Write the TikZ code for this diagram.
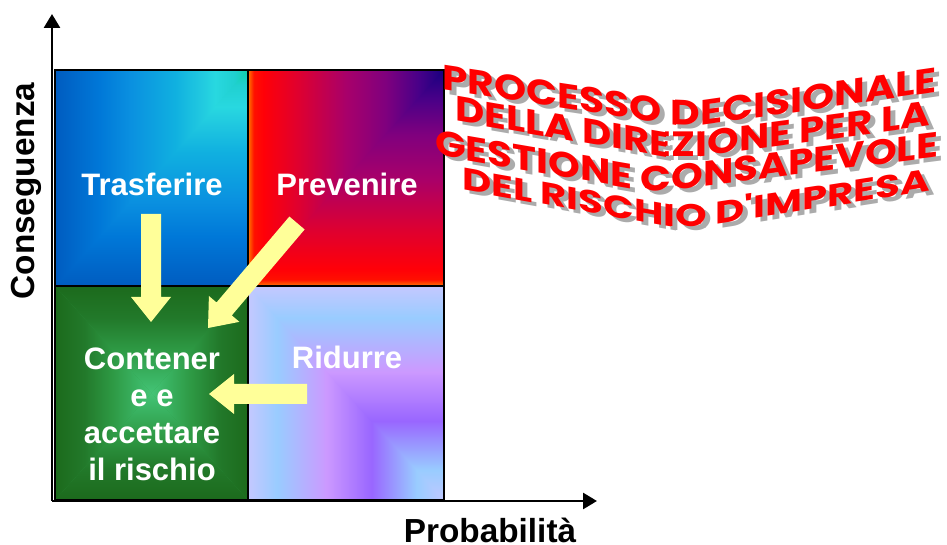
\documentclass[tikz,border=0pt]{standalone}
\usepackage{fontspec}
\usepackage{graphicx}
\setmainfont{Liberation Sans}
\newfontfamily\wafont{Poppins}
\usetikzlibrary{arrows.meta,calc}

\definecolor{yel}{HTML}{FFFF99}
\definecolor{waRed}{HTML}{FF0000}
\definecolor{waGray}{HTML}{ABABAB}
% Trasferire
\definecolor{tA}{HTML}{005CC0}
\definecolor{tB}{HTML}{0078D8}
\definecolor{tC}{HTML}{0A90E0}
\definecolor{tD}{HTML}{10B0E0}
\definecolor{tE}{HTML}{20C8E0}
\definecolor{tF}{HTML}{28D8E0}
\definecolor{tG}{HTML}{20D0D0}
\definecolor{tH}{HTML}{10D0A8}
% Prevenire
\definecolor{pA}{HTML}{FF7800}
\definecolor{pB}{HTML}{FF1000}
\definecolor{pC}{HTML}{FF0008}
\definecolor{pD}{HTML}{E0002E}
\definecolor{pE}{HTML}{A8006A}
\definecolor{pF}{HTML}{80007E}
\definecolor{pG}{HTML}{480088}
\definecolor{pH}{HTML}{180080}
% Contenere
\definecolor{cA}{HTML}{1C6A1C}
\definecolor{cB}{HTML}{22792A}
\definecolor{cC}{HTML}{2E9A45}
\definecolor{cD}{HTML}{3AB463}
\definecolor{cE}{HTML}{44C476}
% Ridurre
\definecolor{rA}{HTML}{C4C8FF}
\definecolor{rB}{HTML}{99CCFF}
\definecolor{rC}{HTML}{CC99FF}
\definecolor{rD}{HTML}{9966FF}
\definecolor{rE}{HTML}{99CCFF}
\definecolor{rF}{HTML}{C0C8FF}

\pgfdeclarehorizontalshading{trasf}{100bp}{color(0bp)=(tA); color(25bp)=(tA); color(36.5bp)=(tB); color(44.5bp)=(tC); color(56bp)=(tD); color(62.5bp)=(tE); color(66.5bp)=(tF); color(71.5bp)=(tG); color(75bp)=(tH); color(100bp)=(tH)}
\pgfdeclarehorizontalshading{preven}{100bp}{color(0bp)=(pA); color(25bp)=(pA); color(26.5bp)=(pB); color(29bp)=(pC); color(37.5bp)=(pD); color(50bp)=(pE); color(60bp)=(pF); color(68.5bp)=(pG); color(75bp)=(pH); color(100bp)=(pH)}
\pgfdeclarehorizontalshading{conten}{100bp}{color(0bp)=(cA); color(25bp)=(cA); color(40bp)=(cB); color(55bp)=(cC); color(67.5bp)=(cD); color(75bp)=(cE); color(100bp)=(cE)}
\pgfdeclarehorizontalshading{ridur}{100bp}{color(0bp)=(rA); color(25bp)=(rA); color(32.5bp)=(rB); color(45bp)=(rC); color(56.5bp)=(rD); color(68bp)=(rE); color(75bp)=(rF); color(100bp)=(rF)}

% filled block arrow from #2 to #3, helper coordinate #1h
\newcommand{\yelarrow}[3]{%
  \coordinate (#1h) at ($(#3)!18.75pt!(#2)$);
  \fill[yarrow] ($(#2)!7.5pt!90:(#3)$) -- ($(#1h)!7.5pt!-90:(#2)$) -- ($(#1h)!15pt!-90:(#2)$) -- (#3)
     -- ($(#1h)!15pt!90:(#2)$) -- ($(#1h)!7.5pt!90:(#2)$) -- ($(#2)!7.5pt!-90:(#3)$) -- cycle;
}

% word-art lines (natural, unwarped text)
\newcommand{\waA}{\resizebox{371.25pt}{18.75pt}{\wafont\bfseries PROCESSO DECISIONALE}}
\newcommand{\waB}{\resizebox{356.25pt}{18.75pt}{\wafont\bfseries DELLA DIREZIONE PER LA}}
\newcommand{\waC}{\resizebox{377.25pt}{18.75pt}{\wafont\bfseries GESTIONE CONSAPEVOLE}}
\newcommand{\waD}{\resizebox{351pt}{18.75pt}{\wafont\bfseries DEL RISCHIO D'IMPRESA}}

% one sheared, clipped piece of a line:
% #1 colour, #2 text, #3 xL, #4 yL (unwarped baseline start), piece from (#5,#6) to (#7,#8)
\newcommand{\wapiece}[8]{%
  \pgfmathsetmacro{\wnslope}{-(#8-#6)/(#7-#5)}%
  \pgfmathsetmacro{\wconst}{#6-#4+\wnslope*#5}%
  \begin{scope}[shift={(0,\wconst)}]
    \begin{scope}[cm={1,\wnslope,0,1,(0,0)}]
      \clip (#5,-300) rectangle (#7,700);
      \node[wanode, text=#1] at (#3,#4) {#2};
    \end{scope}
  \end{scope}}

\newcommand{\walayer}[1]{%
  \wapiece{#1}{\waA}{442}{90}{422}{87.0}{675}{125}%
  \wapiece{#1}{\waA}{442}{90}{675}{125}{700}{126}%
  \wapiece{#1}{\waA}{442}{90}{700}{126}{967}{87.7}%
  \wapiece{#1}{\waB}{455}{121}{435}{117.57}{665}{157}%
  \wapiece{#1}{\waB}{455}{121}{665}{157}{700}{157}%
  \wapiece{#1}{\waB}{455}{121}{700}{157}{960}{121.96}%
  \wapiece{#1}{\waC}{435}{155}{415}{151.57}{645}{191}%
  \wapiece{#1}{\waC}{435}{155}{645}{191}{675}{190}%
  \wapiece{#1}{\waC}{435}{155}{675}{190}{968}{153.23}%
  \wapiece{#1}{\waD}{462}{190}{442}{186.44}{670}{227}%
  \wapiece{#1}{\waD}{462}{190}{670}{227}{700}{227}%
  \wapiece{#1}{\waD}{462}{190}{700}{227}{960}{186.30}%
}

\begin{document}
\begin{tikzpicture}[x=0.75pt,y=-0.75pt,
  qborder/.style={draw=black, line width=1.5pt},
  axisline/.style={line width=2pt, -{Triangle[length=10.5pt,width=12pt]}},
  qlabel/.style={text=white, font=\bfseries\fontsize{23.25}{27.75}\selectfont, inner sep=0pt},
  axlabel/.style={text=black, font=\bfseries\fontsize{25}{30}\selectfont, inner sep=0pt},
  yarrow/.style={fill=yel},
  wanode/.style={transform shape, anchor=base west, inner sep=0pt, outer sep=0pt}]
\useasboundingbox (0,0) rectangle (947,545);
\fill[white] (0,0) rectangle (947,545);

% Trasferire (corner gradient toward top-right)
\shade[shading=trasf] (55,70) rectangle (248,286);
\shade[shading=trasf, shading angle=90] (55,286) -- (248,286) -- (248,70) -- cycle;
% Prevenire
\shade[shading=preven] (248,70) rectangle (444,286);
\shade[shading=preven, shading angle=90] (248,286) -- (444,286) -- (444,70) -- cycle;
% Ridurre (corner gradient toward bottom-right)
\shade[shading=ridur] (248,286) rectangle (444,500);
\shade[shading=ridur, shading angle=270] (248,286) -- (444,286) -- (444,500) -- cycle;
% Contenere (gradient toward centre)
\coordinate (cc) at (151.5,393);
\fill[cC] (55,286) rectangle (248,500);
\shade[shading=conten] (55,286) -- (55,500) -- (cc) -- cycle;
\shade[shading=conten, shading angle=180] (248,286) -- (248,500) -- (cc) -- cycle;
\shade[shading=conten, shading angle=270] (55,286) -- (248,286) -- (cc) -- cycle;
\shade[shading=conten, shading angle=90] (55,500) -- (248,500) -- (cc) -- cycle;

% borders
\draw[qborder] (55,70) rectangle (248,286);
\draw[qborder] (248,70) rectangle (444,286);
\draw[qborder] (55,286) rectangle (248,500);
\draw[qborder] (248,286) rectangle (444,500);

% axes
\coordinate (o) at (52,501);
\coordinate (ytip) at (52,14);
\coordinate (xtip) at (597,501);
\draw[axisline] (o) -- (ytip);
\draw[axisline] (o) -- (xtip);
\node[axlabel, rotate=90, anchor=base] (ylab) at (35,191) {Conseguenza};
\node[axlabel, anchor=base] (xlab) at (490,542) {Probabilità};

% yellow arrows
\coordinate (a1s) at (151,214);
\coordinate (a1e) at (151,322);
\coordinate (a2s) at (297,223);
\coordinate (a2e) at (208,328);
\coordinate (a3s) at (307,394);
\coordinate (a3e) at (209,394);
\yelarrow{a1}{a1s}{a1e}
\yelarrow{a2}{a2s}{a2e}
\yelarrow{a3}{a3s}{a3e}

% quadrant labels
\node[qlabel, anchor=base] (tr) at (152,196) {Trasferire};
\node[qlabel, anchor=base] (pr) at (347,196) {Prevenire};
\node[qlabel, anchor=base] (ri) at (347,369) {Ridurre};
\node[qlabel, align=center] (co) at (152,414) {Contener\\e e\\accettare\\il rischio};

% word-art title: shadow, then red
\begin{scope}[shift={(5,4)}]
\walayer{waGray}
\end{scope}
\walayer{waRed}
\end{tikzpicture}
\end{document}
